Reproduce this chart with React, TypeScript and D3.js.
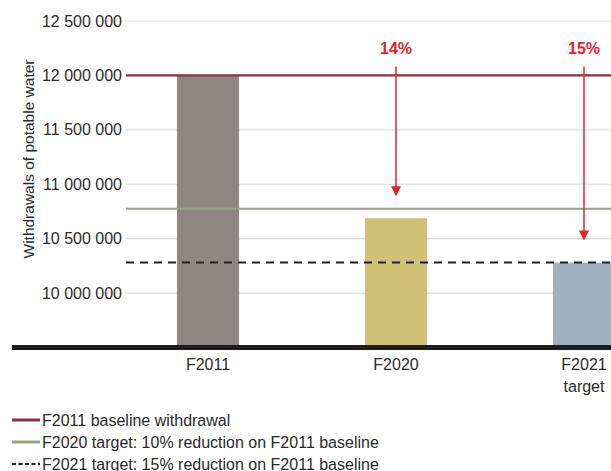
import React from "react";
import * as d3 from "d3";

const categories = ["F2011", "F2020", "F2021 target"];
const withdrawals = [12000000, 10688000, 10280000];
const barColors = ["#8f8682", "#d0c176", "#9eb1c1"];
const yTicks = [10000000, 10500000, 11000000, 11500000, 12000000, 12500000];
const baseline = 12000000;
const target2020 = 10775000;
const target2021 = 10282000;
const reductions = ["14%", "15%"];
const legendLabels = [
  "F2011 baseline withdrawal",
  "F2020 target: 10% reduction on F2011 baseline",
  "F2021 target: 15% reduction on F2011 baseline",
];

const W = 611;
const H = 471;
const FONT = "'Liberation Sans', Arial, sans-serif";

export default function App() {
  const y = d3.scaleLinear().domain([9500000, 12500000]).range([347.5, 21]);
  const x = d3
    .scaleBand<string>()
    .domain(categories)
    .range([114, 678])
    .paddingInner(0.67)
    .paddingOuter(0.335);
  const bw = x.bandwidth();
  const fmt = (v: number) => d3.format(",")(v).replace(/,/g, " ");
  const gridX0 = 126;
  const red = "#e8202a";

  const arrowTargets = [withdrawals[1], withdrawals[2]];
  const arrowCats = [categories[1], categories[2]];

  return (
    <svg
      width={W}
      height={H}
      style={{ position: "absolute", left: 0, top: 0, background: "#fff" }}
      fontFamily={FONT}
    >
      {/* gridlines */}
      {yTicks.map((t) => (
        <line key={t} x1={gridX0} x2={W} y1={y(t)} y2={y(t)} stroke="#dcdcdc" strokeWidth={1.2} />
      ))}
      {/* tick labels */}
      {yTicks.map((t) => (
        <text key={"l" + t} x={122} y={y(t)} dy="0.35em" textAnchor="end" fontSize={16} fill="#2a2a2a">
          {fmt(t)}
        </text>
      ))}
      {/* y axis title */}
      <text
        transform={`translate(34,${159}) rotate(-90)`}
        textAnchor="middle"
        fontSize={15.5}
        fill="#2a2a2a"
      >
        Withdrawals of potable water
      </text>
      {/* bars */}
      {categories.map((c, i) => (
        <rect
          key={c}
          x={x(c)}
          y={y(withdrawals[i])}
          width={bw}
          height={y(9500000) - y(withdrawals[i])}
          fill={barColors[i]}
        />
      ))}
      {/* reference lines */}
      <line x1={gridX0} x2={W} y1={y(target2020)} y2={y(target2020)} stroke="#98a08a" strokeWidth={2} />
      <line
        x1={gridX0}
        x2={W}
        y1={y(target2021)}
        y2={y(target2021)}
        stroke="#222"
        strokeWidth={2}
        strokeDasharray="8 6"
      />
      <line x1={gridX0} x2={W} y1={y(baseline)} y2={y(baseline)} stroke="#8a3040" strokeWidth={2.2} />
      {/* axis baseline */}
      <line x1={12} x2={W} y1={347.5} y2={347.5} stroke="#1c1c1c" strokeWidth={5} />
      {/* x labels */}
      {categories.map((c) => {
        const parts = c.split(" ");
        return (
          <text key={"x" + c} x={(x(c) as number) + bw / 2} y={364} textAnchor="middle" fontSize={16} fill="#2a2a2a">
            {parts.map((p, j) => (
              <tspan key={j} x={(x(c) as number) + bw / 2} dy={j === 0 ? "0.35em" : 22}>
                {p}
              </tspan>
            ))}
          </text>
        );
      })}
      {/* arrows */}
      {arrowCats.map((c, i) => {
        const cx = (x(c) as number) + bw / 2;
        const tip = y(arrowTargets[i]) - 22;
        return (
          <g key={"a" + c}>
            <text x={cx} y={48.5} dy="0.35em" textAnchor="middle" fontSize={16} fontWeight="bold" fill={red}>
              {reductions[i]}
            </text>
            <line x1={cx} x2={cx} y1={66.5} y2={tip - 6} stroke={red} strokeWidth={1.5} />
            <path d={`M${cx - 5},${tip - 10} L${cx + 5},${tip - 10} L${cx},${tip} Z`} fill={red} />
          </g>
        );
      })}
      {/* legend */}
      {legendLabels.map((l, i) => {
        const ly = 420 + i * 22;
        const styles = [
          { stroke: "#8a3040", dash: undefined, w: 3 },
          { stroke: "#98a08a", dash: undefined, w: 3 },
          { stroke: "#222", dash: "4 2.5", w: 2 },
        ][i];
        return (
          <g key={"lg" + i}>
            <line x1={12} x2={40} y1={ly} y2={ly} stroke={styles.stroke} strokeWidth={styles.w} strokeDasharray={styles.dash} />
            <text x={42} y={ly} dy="0.35em" fontSize={16} fill="#2a2a2a">
              {l}
            </text>
          </g>
        );
      })}
    </svg>
  );
}
